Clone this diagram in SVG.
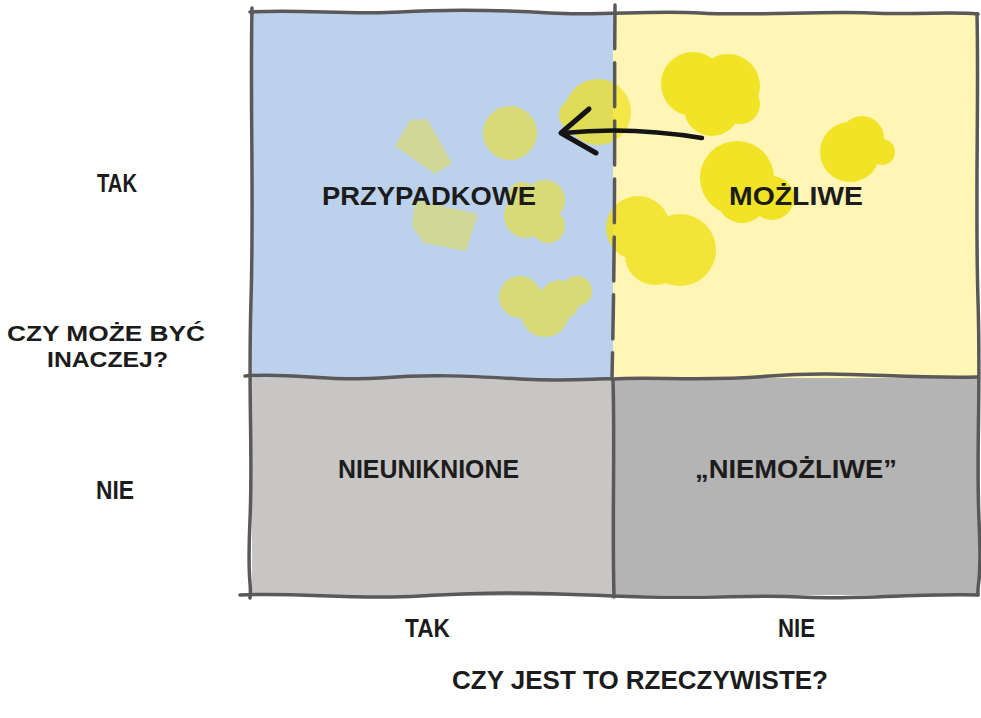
<svg xmlns="http://www.w3.org/2000/svg" width="981" height="718" viewBox="0 0 981 718">
<style>
.t{font-family:"Liberation Sans",Arial,sans-serif;font-weight:bold;font-size:25px;fill:#1c1c1c;}
.s{font-size:22px;}
.b{fill:none;stroke:#5a5858;stroke-width:3.5;stroke-linecap:round;stroke-linejoin:round;}
.y{fill:#f0e21a;}
</style>
<rect width="981" height="718" fill="#ffffff"/>
<g id="q-przypadkowe">
<rect x="252" y="12" width="362" height="366" fill="#bcd1ec"/>
</g>
<g id="q-mozliwe">
<rect x="613" y="12" width="365" height="366" fill="#fff5b4"/>
</g>
<g id="q-nieuniknione">
<rect x="252" y="378" width="362" height="218" fill="#c8c5c5"/>
</g>
<g id="q-niemozliwe">
<rect x="613" y="378" width="365" height="217" fill="#b4b4b4"/>
</g>
<g id="blobs">
<g opacity="0.92" class="y">
<circle cx="693" cy="84" r="32"/><circle cx="728" cy="86" r="32"/><circle cx="712" cy="108" r="28"/><circle cx="740" cy="104" r="20"/>
<circle cx="850" cy="152" r="30"/><circle cx="862" cy="138" r="22"/><circle cx="882" cy="152" r="13"/>
<circle cx="737" cy="178" r="37"/><circle cx="742" cy="198" r="25"/><circle cx="772" cy="198" r="22"/>
</g>
<g opacity="0.8" class="y">
<circle cx="638" cy="228" r="32"/><circle cx="680" cy="250" r="36"/><circle cx="655" cy="255" r="30"/>
</g>
<g opacity="0.7" class="y">
<circle cx="598" cy="112" r="33"/><circle cx="575" cy="115" r="16"/>
</g>
<g opacity="0.55" class="y">
<circle cx="510" cy="133" r="27"/>
<circle cx="526" cy="216" r="22"/><circle cx="545" cy="200" r="20"/><circle cx="548" cy="226" r="17"/><circle cx="522" cy="196" r="14"/>
<circle cx="520" cy="297" r="21"/><circle cx="545" cy="313" r="24"/><circle cx="577" cy="291" r="15"/><circle cx="560" cy="300" r="20"/>
</g>
<g opacity="0.4" class="y">
<polygon points="410,120 427,119 452,163 435,174 395,146"/>
<polygon points="415,200 478,214 466,251 424,243 412,226"/>
</g>
</g>
<g id="borders">
<path class="b" d="M250,12 C300,9 350,15 400,12 S500,10 550,13 S650,10 700,13 S820,11 870,13 S950,11 978,14"/>
<path class="b" d="M252,8 C250,100 254,200 251,300 S253,450 250,520 S252,580 250,598"/>
<path class="b" d="M245,376 C290,372 330,382 380,378 S470,376 520,379 S600,378 613,379 C650,376 700,382 770,376 S900,379 978,377"/>
<path class="b" d="M240,595 C300,592 350,600 420,596 S520,592 613,596 S750,594 800,597 S930,593 978,595"/>
<path class="b" d="M977,14 C979,100 975,200 978,300 S976,450 979,520 S977,580 978,595"/>
<path class="b" d="M613,380 C615,450 612,520 614,597"/>
<path class="b" d="M615,5 C614,100 616,200 612,378" stroke-dasharray="44 14"/>
</g>
<g id="connectors">
<path d="M702,138 Q630,126 563,133" fill="none" stroke="#141414" stroke-width="4.5" stroke-linecap="round"/>
<path d="M589,109 L561,133 L596,153" fill="none" stroke="#141414" stroke-width="5" stroke-linecap="round" stroke-linejoin="round"/>
</g>
<g id="labels">
<text class="t" x="322" y="205" textLength="214" lengthAdjust="spacingAndGlyphs">PRZYPADKOWE</text>
<text class="t" x="729" y="205" textLength="134" lengthAdjust="spacingAndGlyphs">MOŻLIWE</text>
<text class="t" x="338" y="478" textLength="181" lengthAdjust="spacingAndGlyphs">NIEUNIKNIONE</text>
<text class="t" x="695" y="478" textLength="202" lengthAdjust="spacingAndGlyphs">„NIEMOŻLIWE”</text>
<text class="t" x="97" y="192" textLength="40" lengthAdjust="spacingAndGlyphs">TAK</text>
<text class="t s" x="7" y="341" textLength="198" lengthAdjust="spacingAndGlyphs">CZY MOŻE BYĆ</text>
<text class="t s" x="47" y="367" textLength="121" lengthAdjust="spacingAndGlyphs">INACZEJ?</text>
<text class="t" x="96" y="499" textLength="38" lengthAdjust="spacingAndGlyphs">NIE</text>
<text class="t" x="405" y="637" textLength="45" lengthAdjust="spacingAndGlyphs">TAK</text>
<text class="t" x="778" y="637" textLength="37" lengthAdjust="spacingAndGlyphs">NIE</text>
<text class="t" x="452" y="689" textLength="376" lengthAdjust="spacingAndGlyphs">CZY JEST TO RZECZYWISTE?</text>
</g>
</svg>
